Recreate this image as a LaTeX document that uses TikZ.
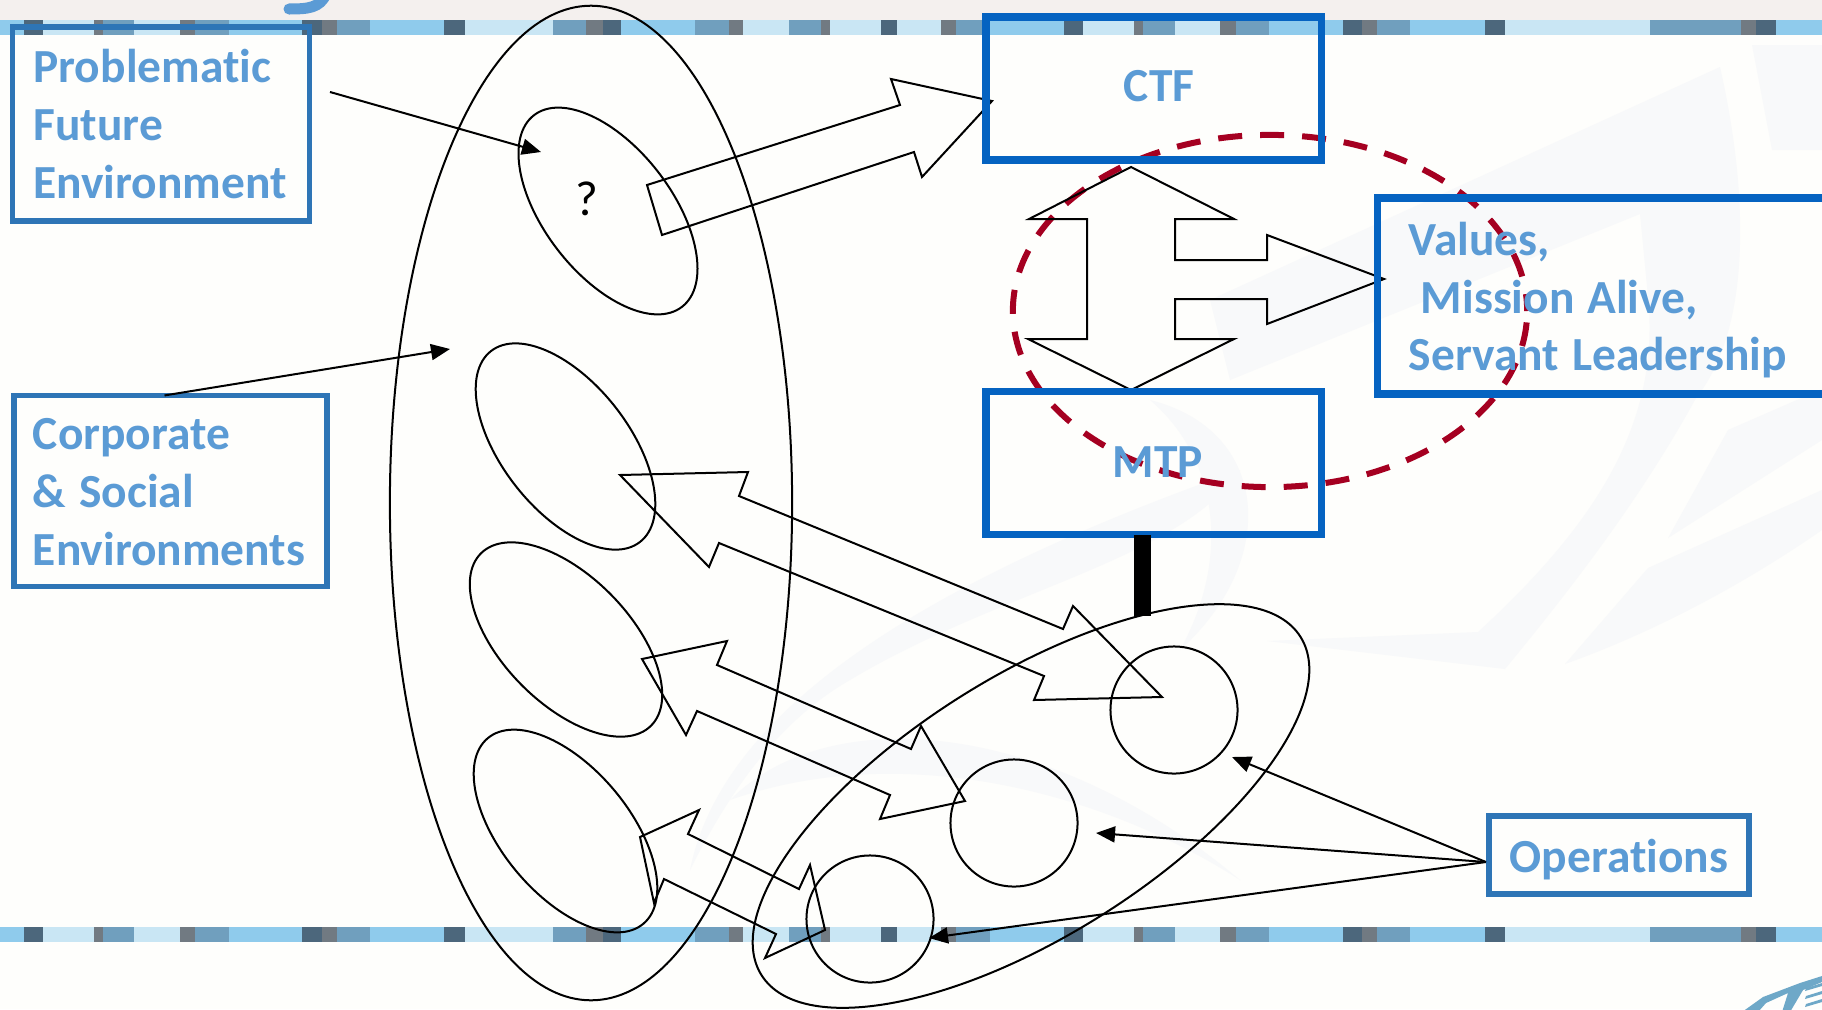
\documentclass[tikz,border=0pt]{standalone}
\usepackage{fontspec}
\setmainfont{Carlito}[Ligatures=NoCommon]
\usepackage{xcolor}
\usetikzlibrary{shapes.geometric, arrows.meta}
\definecolor{cText}{RGB}{91,155,213}
\definecolor{cBoxA}{RGB}{46,117,182}
\definecolor{cBoxB}{RGB}{5,99,193}
\definecolor{cDash}{RGB}{165,0,33}
\definecolor{cPage}{RGB}{254,254,252}
\definecolor{cTop}{RGB}{244,240,238}
\definecolor{cMark}{RGB}{248,249,250}
\definecolor{cLogo}{RGB}{110,168,200}
\definecolor{cBright}{RGB}{143,203,236}
\definecolor{cLight}{RGB}{201,230,244}
\definecolor{cMid}{RGB}{112,159,190}
\definecolor{cDark}{RGB}{76,103,124}
\definecolor{cGray}{RGB}{113,122,130}
\tikzset{
   infobox/.style={draw=cBoxA, line width=0.055cm, inner xsep=0.21cm, inner ysep=0pt, outer sep=0pt, align=left, text=cText, font=\fontsize{13.5}{16.4}\selectfont\bfseries, execute at begin node={\spaceskip=0.27em\relax}},
   mainbox/.style={draw=cBoxB, line width=0.072cm, inner sep=0pt, outer sep=0pt, text=cText, font=\fontsize{13.5}{16.4}\selectfont\bfseries, execute at begin node={\spaceskip=0.27em\relax}},
   blob/.style={draw, ellipse, line width=0.02cm, inner sep=0pt, outer sep=0pt, minimum width=2.42cm, minimum height=1.27cm},
   unit/.style={draw, circle, line width=0.02cm, inner sep=0pt, outer sep=0pt, minimum size=1.27cm},
   blockarrow/.style={line width=0.02cm, line join=miter}
}
\newcommand{\bandrow}[1]{
   \foreach \xa/\xb/\bandcol in {0/24/cBright, 24/43/cDark, 43/94/cLight, 94/103/cGray, 103/134/cMid, 134/180/cLight, 180/195/cGray, 195/229/cMid, 229/302/cBright, 302/322/cDark, 322/337/cGray, 337/370/cMid, 370/444/cBright, 444/465/cDark, 465/553/cLight, 553/586/cMid, 586/603/cGray, 603/621/cDark, 621/695/cBright, 695/729/cMid, 729/743/cGray, 743/789/cLight, 789/821/cMid, 821/830/cGray, 830/881/cLight, 881/897/cDark, 897/941/cLight, 941/956/cGray, 956/990/cMid, 990/1064/cBright, 1064/1083/cDark, 1083/1134/cLight, 1134/1143/cGray, 1143/1175/cMid, 1175/1220/cLight, 1220/1236/cGray, 1236/1269/cMid, 1269/1343/cBright, 1343/1362/cDark, 1362/1377/cGray, 1377/1410/cMid, 1410/1485/cBright, 1485/1505/cDark, 1505/1650/cLight, 1650/1741/cMid, 1741/1756/cGray, 1756/1776/cDark, 1776/1822/cBright}
      {\fill[\bandcol] (\xa,#1) rectangle (\xb,#1+15);}
}

\begin{document}
\begin{tikzpicture}[x=0.01cm, y=-0.01cm, >={Triangle[length=0.19cm, width=0.16cm]}]
   \useasboundingbox (0,0) rectangle (1822,1009);
   % Page, watermark and the two bands
   \fill[cPage] (0,0) rectangle (1822,1009);
   \fill[cMark] (690,870) .. controls (720,720) and (900,590) .. (1240,470) .. controls (1180,560) and (1000,590) .. (850,680) .. controls (780,720) and (730,790) .. (690,870) -- cycle;
   \fill[cMark] (1150,400) .. controls (1270,430) and (1280,560) .. (1180,650) .. controls (1230,560) and (1220,460) .. (1150,400) -- cycle;
   \fill[cMark] (730,800) .. controls (830,700) and (1050,720) .. (1240,880) .. controls (1100,790) and (900,740) .. (730,800) -- cycle;
   \fill[cMark] (1267,641) -- (1478,632) .. controls (1600,520) and (1660,420) .. (1648,297) -- (1640,214) -- (1230,380) -- (1210,300) -- (1720,67) .. controls (1750,200) and (1750,330) .. (1696,398) .. controls (1640,500) and (1570,590) .. (1505,669) -- cycle;
   \fill[cMark] (1565,664) -- (1648,568) -- (1822,490) -- (1822,530) .. controls (1750,580) and (1660,630) .. (1565,664) -- cycle;
   \fill[cMark] (1668,538) -- (1728,430) -- (1822,389) -- (1822,440) -- cycle;
   \fill[cMark] (1752,45) -- (1822,45) -- (1822,150) -- (1772,150) -- cycle;
   \fill[cTop] (0,0) rectangle (1822,20);
   \bandrow{20}
   \bandrow{927}
   \draw[cText, line width=0.11cm, line cap=round] (326,-6) .. controls (320,8) and (308,9) .. (289,9);
   \fill[cLogo] (1742,1012) -- (1763,997) -- (1800,983) -- (1822,976) -- (1822,982) -- (1803,990) -- (1790,1012) -- (1782,1012) -- (1788,993) -- (1766,1003) -- (1758,1012) -- cycle;
   \foreach \ya in {988, 996, 1004}
      {\fill[cLogo] (1806,\ya) -- (1822,\ya-5) -- (1822,\ya-2) -- (1805,\ya+3) -- cycle;}

   % Nodes: environment side
   \node[blob, minimum width=4.02cm, minimum height=9.94cm] (env) at (591,503) {};
   \node[blob, rotate=-52.3] (fut) at (608,211) {};
   \node[blob, rotate=-52] (corpA) at (565.5,446.5) {};
   \node[blob, rotate=-45.5] (corpB) at (566,639.5) {};
   \node[blob, rotate=-50] (corpC) at (565.5,831) {};
   \node[font=\fontsize{14}{16}\selectfont] (quest) at (587,199) {?};

   % Nodes: operations side
   \node[blob, rotate=32.1, minimum width=6.36cm, minimum height=2.6cm] (opsAll) at (1031,806) {};
   \node[unit] (opsA) at (1174,710) {};
   \node[unit] (opsB) at (1014,823) {};
   \node[unit] (opsC) at (870,919) {};

   % Dashed ring and block arrows
   \node[draw=cDash, ellipse, line width=0.06cm, dash pattern=on 0.24cm off 0.18cm, dash phase=0.07cm, inner sep=0pt, outer sep=0pt, minimum width=5.14cm, minimum height=3.52cm] (ring) at (1270,311) {};
   \draw[blockarrow] (647,185) -- (900,105) -- (891,79) -- (992,101) -- (922,177) -- (914,152) -- (662,235) -- cycle;
   \draw[blockarrow] (1131,167) -- (1029,219) -- (1087,219) -- (1087,339) -- (1028,339) -- (1131,390) -- (1234,339) -- (1175,339) -- (1175,299) -- (1267,299) -- (1267,324) -- (1384,279) -- (1267,235) -- (1267,260) -- (1175,260) -- (1175,219) -- (1234,219) -- cycle;
   \draw[blockarrow] (620,475) -- (748,472) -- (739,496) -- (1063,629) -- (1073,606) -- (1162,697) -- (1034,700) -- (1044,676) -- (719,543) -- (709,567) -- cycle;
   \draw[blockarrow] (642,659) -- (727,641) -- (717,665) -- (911,749) -- (921,726) -- (965,801) -- (880,819) -- (890,795) -- (697,711) -- (686,735) -- cycle;
   \draw[blockarrow] (640,837) -- (699,810) -- (688,834) -- (799,889) -- (810,865) -- (825,930) -- (765,958) -- (776,934) -- (664,879) -- (654,903) -- cycle;

   % Boxes
   \node[infobox, text width=2.55cm, minimum height=1.94cm] (prob) at (161,124) {Problematic\\Future\\Environment};
   \node[infobox, inner xsep=0.19cm, text width=2.75cm, minimum height=1.91cm] (corp) at (170.5,491) {\rule{0pt}{0.33cm}Corporate\\\&\ Social\\Environments};
   \node[mainbox, minimum width=3.35cm, minimum height=1.43cm] (ctf) at (1153.5,88.5) {\hspace*{0.11cm}\raisebox{0.045cm}{CTF}};
   \node[mainbox, minimum width=3.35cm, minimum height=1.43cm] (mtp) at (1153.5,463) {\hspace*{0.09cm}\raisebox{0.01cm}{MTP}};
   \node[mainbox, inner xsep=0.31cm, text width=3.9cm, align=left, minimum height=1.96cm] (vals) at (1604,296) {\rule{0pt}{0.42cm}Values,\\\hspace*{0.12cm}Mission Alive,\\Servant Leadership};
   \node[infobox, inner xsep=0pt, align=center, minimum width=2.6cm, minimum height=0.78cm] (oper) at (1619,855) {\rule{0pt}{0.42cm}Operations};

   % Edges
   \coordinate (probEnd) at (330,92);
   \coordinate (probTip) at (541,152);
   \coordinate (corpTip) at (450,349);
   \coordinate (tipA) at (1232,757);
   \coordinate (tipB) at (1096,833);
   \coordinate (tipC) at (929,938);
   \coordinate (barTop) at (1142,535);
   \coordinate (barEnd) at (1142,616);
   \coordinate (operEnd) at ([xshift=-0.03cm, yshift=-0.07cm]oper.west);
   \draw[line width=0.17cm] (barTop) -- (barEnd);
   \path[->, line width=0.02cm]
   (probEnd) edge (probTip)
   ([xshift=-0.06cm]corp.north) edge (corpTip)
   (operEnd) edge (tipA)
   (operEnd) edge (tipB)
   (operEnd) edge (tipC);
\end{tikzpicture}
\end{document}
